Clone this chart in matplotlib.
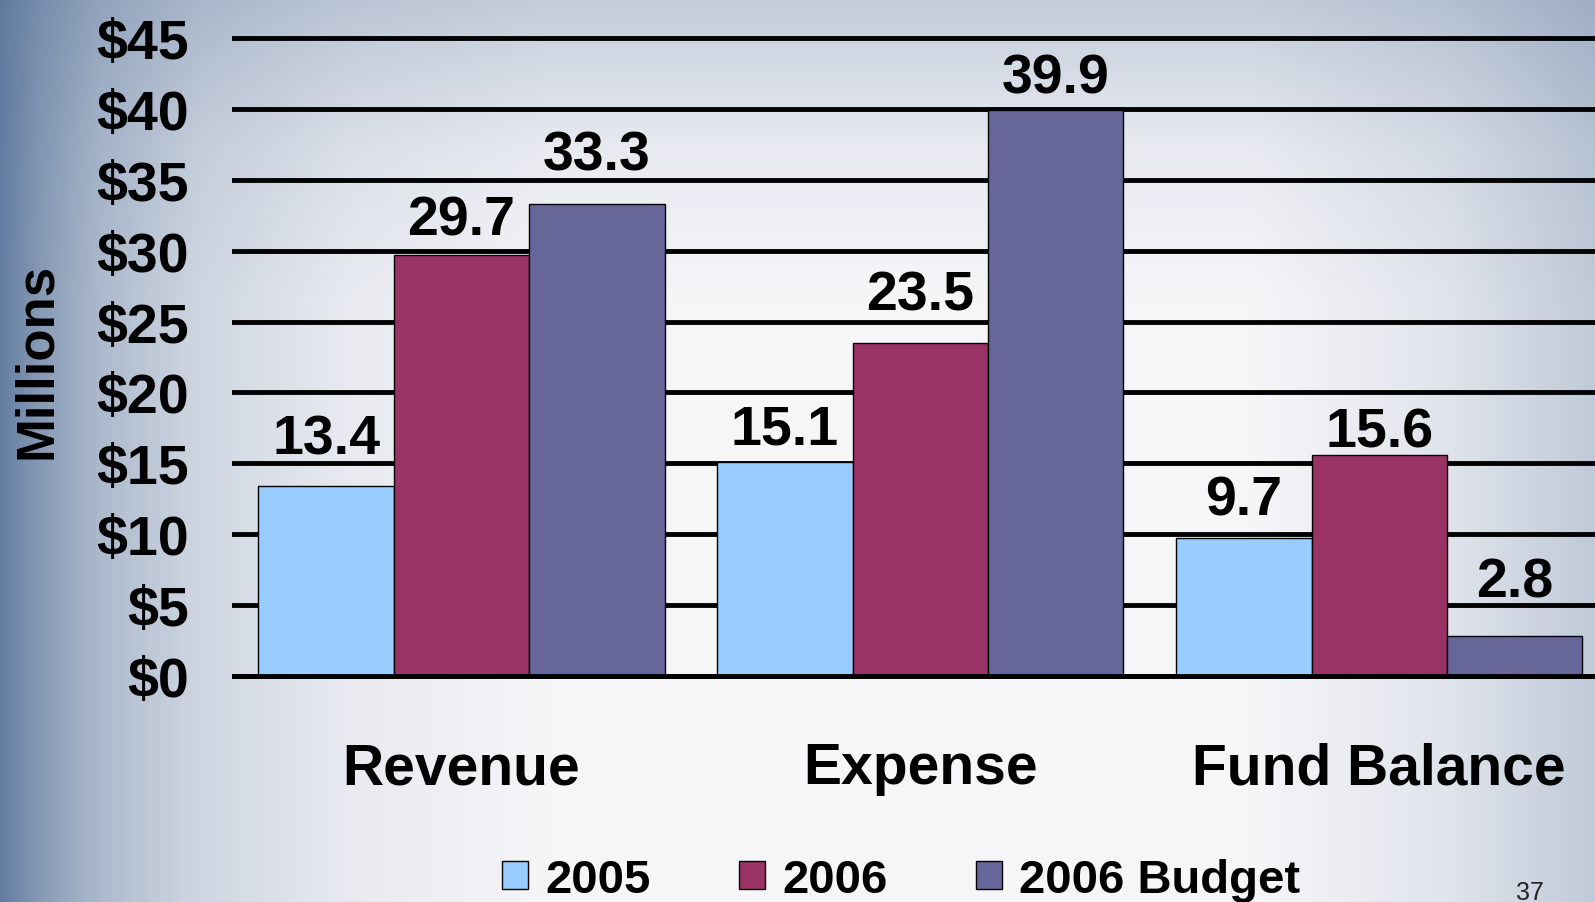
import numpy as np
import matplotlib
matplotlib.use("Agg")
import matplotlib.pyplot as plt

# Daten
kategorien = ["Revenue", "Expense", "Fund Balance"]
serien = ["2005", "2006", "2006 Budget"]
werte_2005 = [13.4, 15.1, 9.7]
werte_2006 = [29.7, 23.5, 15.6]
werte_budget = [33.3, 39.9, 2.8]
y_ticks = [0, 5, 10, 15, 20, 25, 30, 35, 40, 45]
y_tick_labels = ["$0", "$5", "$10", "$15", "$20", "$25", "$30", "$35", "$40", "$45"]

# Abstand der Beschriftung über dem Balken (Punkte), wie im Original von Hand verschoben
label_abstand = [
    [23.5, 13, 17.5],  # 2005
    [14.5, 24, 6],     # 2006
    [24.5, 12.5, 28.5],  # 2006 Budget
]

farben = ["#99CCFF", "#993366", "#666699"]

plt.rcParams["font.family"] = ["Liberation Sans", "DejaVu Sans"]
plt.rcParams["font.weight"] = "bold"

W, H = 1595, 903
fig = plt.figure(figsize=(W / 100, H / 100), dpi=100)

# Hintergrund mit Farbverlauf (blaugrau links/oben, hell in der Mitte)
bg = fig.add_axes([0, 0, 1, 1], zorder=-10)
xs = np.arange(W)
ys = np.arange(H)
wx = np.interp(xs, [0, 40, 100, 200, 350, 550, 1250, 1450, 1595],
               [0.92, 0.70, 0.46, 0.24, 0.09, 0.0, 0.0, 0.14, 0.34])
wy = np.interp(ys, [0, 60, 150, 300, 903], [0.32, 0.22, 0.09, 0.0, 0.0])
w = 1 - (1 - wx[None, :]) * (1 - wy[:, None])
hell = np.array([0.965, 0.965, 0.975])
dunkel = np.array([0.34, 0.45, 0.60])
img = hell[None, None, :] * (1 - w[..., None]) + dunkel[None, None, :] * w[..., None]
bg.imshow(img, aspect="auto", extent=[0, 1, 0, 1])
bg.axis("off")

# Hauptdiagramm
ax = fig.add_axes([232 / W, 1 - 681.25 / H, 1 - 232 / W, (681.25 - 34.75) / H])
ax.set_facecolor("none")

breite = 0.295
x = np.arange(len(kategorien))
alle_werte = [werte_2005, werte_2006, werte_budget]
balken = []
for i, (werte, name, farbe) in enumerate(zip(alle_werte, serien, farben)):
    b = ax.bar(x + (i - 1) * breite, werte, breite, color=farbe, edgecolor="black",
               linewidth=1, label=name, zorder=2)
    balken.append(b)
    for j, rect in enumerate(b):
        ax.annotate(f"{werte[j]:.1f}", (rect.get_x() + rect.get_width() / 2, rect.get_height()),
                    xytext=(0, label_abstand[i][j]), textcoords="offset points",
                    ha="center", va="baseline", fontsize=40, fontweight="bold")

ax.set_xlim(-0.5, 2.47)
ax.set_ylim(-0.3, 45.3)
ax.set_yticks(y_ticks, y_tick_labels)
ax.set_xticks(x, kategorien)
ax.tick_params(axis="y", length=0, pad=31, labelsize=40)
ax.tick_params(axis="x", length=0, pad=44, labelsize=41)
ax.yaxis.grid(True, color="black", linewidth=3.5, zorder=1)
ax.set_axisbelow(True)
ax.axhline(0, color="black", linewidth=3.5, zorder=3)
for s in ax.spines.values():
    s.set_visible(False)

fig.text(37 / W, 1 - 361 / H, "Millions", rotation=90, ha="center", va="center",
         fontsize=38, fontweight="bold")

fig.legend(handles=balken, labels=serien, loc="center", bbox_to_anchor=(0.565, 0.0245),
           ncol=3, frameon=False, fontsize=34, handlelength=0.55, handleheight=0.55,
           handletextpad=0.36, columnspacing=1.87)

# Seitenzahl
fig.text(1530 / W, 1 - 881 / H, "37", ha="center", va="top", fontsize=18,
         fontweight="normal", color="#222222")

fig.savefig("out.png", dpi=100)
